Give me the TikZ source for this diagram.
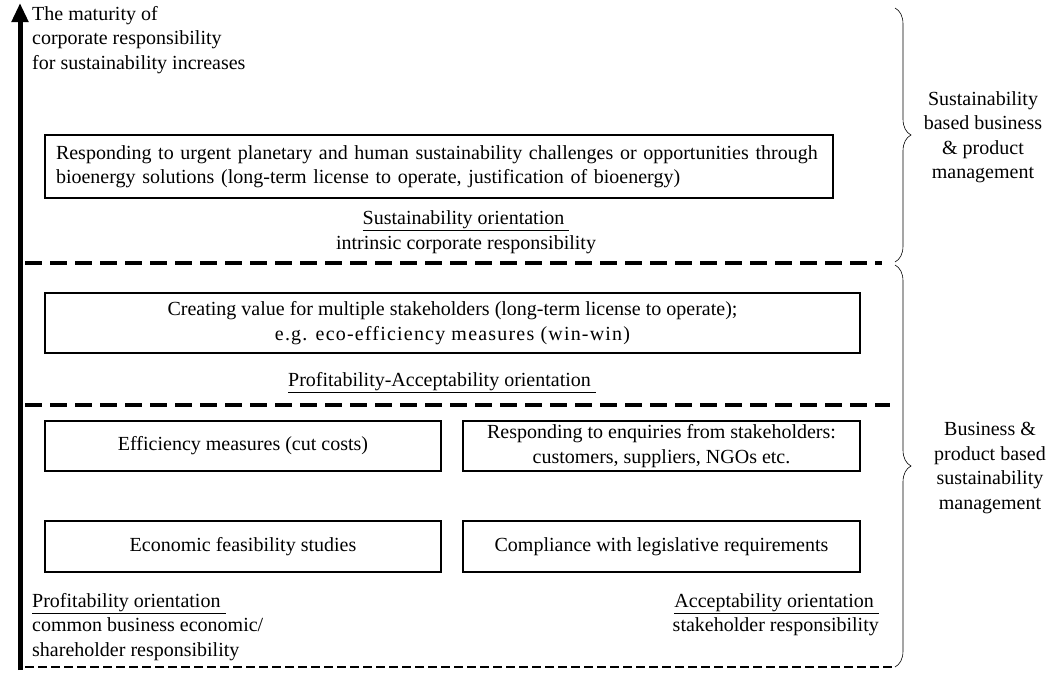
\documentclass[tikz,border=0pt]{standalone}
\usepackage{fontspec}
\setmainfont{Liberation Serif}
\usepackage{tikz}
\usetikzlibrary{positioning,calc}
\usetikzlibrary{arrows.meta,decorations.pathreplacing}

\begin{document}
\begin{tikzpicture}[x=1pt,y=-1pt,
		txt/.style={font=\fontsize{20}{24.5}\selectfont,inner sep=0pt},
		block/.style={draw,line width=1.3pt,txt},
		level/.style={dashed,line width=3.5pt,dash pattern=on 17pt off 8pt},
		group/.style={decorate,decoration={brace,amplitude=16pt,aspect=0.5},line width=0.6pt}] 
		\useasboundingbox (0,0) rectangle (1047,673);
		% maturity arrow
		\coordinate (a_bot) at (20,670);
		\coordinate (a_top) at (20,3);
		\draw[line width=5pt,-{Triangle[length=19pt,width=16pt]}] (a_bot) -- (a_top);
		\node[txt,align=left,anchor=north west] (maturity) at (32,6) {The maturity of\\corporate responsibility\\for sustainability increases};
		% sustainability orientation
		\node[block,align=left,minimum width=788pt,minimum height=63pt,text width=766pt] (b_1) at (439,166.5) {Responding to urgent planetary and human sustainability challenges or opportunities through\\bioenergy solutions (long-term license to operate, justification of bioenergy)};
		\node[txt,align=center] (o_1) at (466,232) {\underline{Sustainability orientation\ }\\intrinsic corporate responsibility};
		% profitability-acceptability orientation
		\node[block,align=center,minimum width=815pt,minimum height=60pt] (b_2) at (452.5,323) {Creating value for multiple stakeholders (long-term license to operate);\\{\addfontfeature{LetterSpace=6}e.g. eco-efficiency measures (win-win)}};
		\node[txt] (o_2) at (442,383) {\underline{Profitability-Acceptability orientation\ }};
		% profitability / acceptability orientation
		\node[block,minimum width=396pt,minimum height=50pt] (b_3) at (243,446) {Efficiency measures (cut costs)};
		\node[block,align=center,minimum width=397pt,minimum height=50pt] (b_4) at (661.5,446) {Responding to enquiries from stakeholders:\\customers, suppliers, NGOs etc.};
		\node[block,minimum width=396pt,minimum height=51pt] (b_5) at (243,546.5) {Economic feasibility studies};
		\node[block,minimum width=397pt,minimum height=51pt] (b_6) at (661.5,546.5) {Compliance with legislative requirements};
		\node[txt,align=left,anchor=north west] (o_3) at (32,593) {\underline{Profitability orientation\ }\\common business economic/\\shareholder responsibility};
		\node[txt,align=right,anchor=north east] (o_4) at (879,593) {\underline{Acceptability orientation\ }\\stakeholder responsibility};
		% dashed levels
		\coordinate (l_1w) at (25,263); \coordinate (l_1e) at (882,263);
		\coordinate (l_2w) at (25,405); \coordinate (l_2e) at (890,405);
		\coordinate (l_3w) at (25,667); \coordinate (l_3e) at (895,667);
		\draw[level] (l_1w) -- (l_1e);
		\draw[level] (l_2w) -- (l_2e);
		\draw[dashed,line width=2pt,dash pattern=on 9pt off 4pt] (l_3w) -- (l_3e);
		% braces and management types
		\coordinate (g_1t) at (895,8); \coordinate (g_1b) at (895,262);
		\coordinate (g_2t) at (895,265); \coordinate (g_2b) at (895,667);
		\draw[group] (g_1t) -- (g_1b);
		\draw[group] (g_2t) -- (g_2b);
		\node[txt,align=center] (m_1) at (983,137) {Sustainability\\based business\\\& product\\management};
		\node[txt,align=center] (m_2) at (990,468) {Business \&\\product based\\sustainability\\management};
		\end{tikzpicture}
\end{document}
